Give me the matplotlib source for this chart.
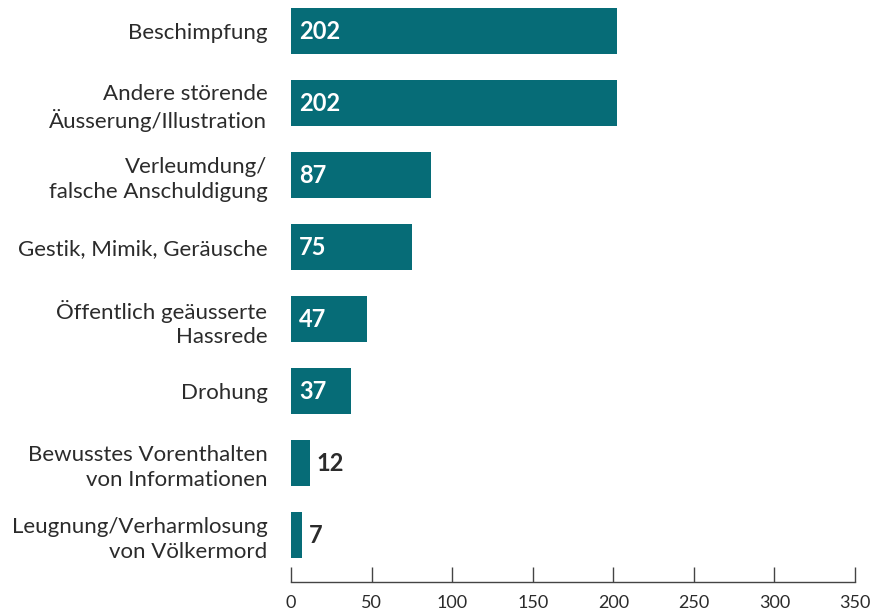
import matplotlib
matplotlib.use("Agg")
import matplotlib.pyplot as plt

categories = [
    "Beschimpfung",
    "Andere störende\nÄusserung/Illustration",
    "Verleumdung/\nfalsche Anschuldigung",
    "Gestik, Mimik, Geräusche",
    "Öffentlich geäusserte\nHassrede",
    "Drohung",
    "Bewusstes Vorenthalten\nvon Informationen",
    "Leugnung/Verharmlosung\nvon Völkermord",
]
values = [202, 202, 87, 75, 47, 37, 12, 7]
xticks = [0, 50, 100, 150, 200, 250, 300, 350]

plt.rcParams['font.family'] = ['Lato', 'DejaVu Sans']
bar_color = "#066c77"
text_color = "#2b2b2b"

fig = plt.figure(figsize=(8.83, 6.13), dpi=100)
ax = fig.add_axes([291/883, 1 - 582/613, (855-291)/883, (582-6)/613])

pos = list(range(len(categories)))
ax.barh(pos, values, height=0.64, color=bar_color)

for i, v in zip(pos, values):
    if v > 30:
        ax.text(5, i, str(v), color="white", va="center", ha="left",
                fontsize=17, fontweight="bold")
    else:
        ax.text(v + 4, i, str(v), color=text_color, va="center", ha="left",
                fontsize=17, fontweight="bold")

ax.set_xlim(0, 350)
ax.set_ylim(7.65, -0.35)
ax.set_yticks(pos)
ax.set_yticklabels(categories, fontsize=16, color=text_color, linespacing=1.3)
ax.set_xticks(xticks)
ax.set_xticklabels([str(t) for t in xticks], fontsize=13, color=text_color)
ax.tick_params(axis='y', length=0, pad=17)
ax.tick_params(axis='x', direction='in', length=11, width=1, color="#444444", pad=9)

for s in ['top', 'right', 'left']:
    ax.spines[s].set_visible(False)
ax.spines['bottom'].set_color("#444444")
ax.spines['bottom'].set_linewidth(1)

fig.savefig("out.png", dpi=100)
